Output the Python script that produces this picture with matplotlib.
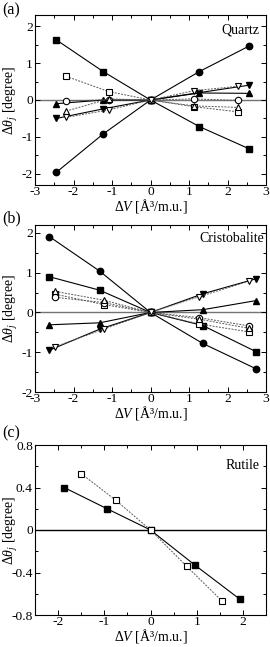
import matplotlib
matplotlib.use("Agg")
import matplotlib.pyplot as plt
from matplotlib.ticker import MultipleLocator, FuncFormatter

plt.rcParams['font.family'] = 'serif'
plt.rcParams['font.serif'] = ['Liberation Serif', 'DejaVu Serif']
plt.rcParams['mathtext.fontset'] = 'custom'
plt.rcParams['mathtext.rm'] = 'Liberation Serif'
plt.rcParams['mathtext.it'] = 'Liberation Serif:italic'
plt.rcParams['axes.unicode_minus'] = False
plt.rcParams['font.size'] = 10

# --- (a) quartz ---
quartz_dv_filled = [-2.45, -1.23, 0.0, 1.27, 2.56]
quartz_dv_open = [-2.19, -1.09, 0.0, 1.12, 2.27]
quartz_sq_filled = [1.63, 0.77, 0.0, -0.72, -1.32]
quartz_ci_filled = [-1.96, -0.92, 0.0, 0.77, 1.46]
quartz_up_filled = [-0.10, 0.00, 0.0, 0.19, 0.18]
quartz_dn_filled = [-0.50, -0.24, 0.0, 0.20, 0.40]
quartz_sq_open = [0.64, 0.23, 0.0, -0.18, -0.32]
quartz_ci_open = [-0.03, 0.01, 0.0, 0.03, -0.01]
quartz_up_open = [-0.30, 0.03, 0.0, -0.16, -0.20]
quartz_dn_open = [-0.47, -0.27, 0.0, 0.25, 0.37]

# --- (b) cristobalite ---
cristo_dv_filled = [-2.63, -1.32, 0.0, 1.36, 2.75]
cristo_dv_open = [-2.47, -1.22, 0.0, 1.27, 2.57]
cristo_sq_filled = [0.90, 0.56, 0.0, -0.33, -0.99]
cristo_ci_filled = [1.91, 1.04, 0.0, -0.78, -1.42]
cristo_up_filled = [-0.31, -0.26, 0.0, 0.07, 0.30]
cristo_dn_filled = [-0.95, -0.42, 0.0, 0.47, 0.85]
cristo_sq_open = [0.46, 0.20, 0.0, -0.29, -0.49]
cristo_ci_open = [0.38, 0.25, 0.0, -0.13, -0.34]
cristo_up_open = [0.53, 0.31, 0.0, -0.17, -0.40]
cristo_dn_open = [-0.86, -0.42, 0.0, 0.40, 0.79]

# --- (c) rutile ---
rutile_dv_filled = [-1.87, -0.94, 0.0, 0.96, 1.93]
rutile_dv_open = [-1.50, -0.75, 0.0, 0.78, 1.55]
rutile_sq_filled = [0.40, 0.20, 0.0, -0.33, -0.65]
rutile_sq_open = [0.53, 0.28, 0.0, -0.34, -0.67]

fig = plt.figure(figsize=(2.70, 6.47), dpi=100)

left, width = 35 / 270, 231 / 270
ax_a = fig.add_axes([left, 1 - 185 / 647, width, 170 / 647])
ax_b = fig.add_axes([left, 1 - 392 / 647, width, 167 / 647])
ax_c = fig.add_axes([left, 1 - 615 / 647, width, 170 / 647])

ms = 4.6
fmt = FuncFormatter(lambda v, p: f'{round(v, 3) + 0:g}')


def solid(ax, x, y, marker):
    ax.plot(x, y, color='black', lw=0.8, marker=marker, ms=ms,
            mfc='black', mec='black', zorder=3)


def dotted(ax, x, y, marker):
    ax.plot(x, y, color='0.35', lw=0.7, ls=(0, (2, 1.3)), marker=marker, ms=ms,
            mfc='white', mec='black', mew=0.8, zorder=4)


def style_axes(ax, xlim, ylim, xmaj, xmin, ymaj, ymin, zero_color):
    ax.axhline(0, color=zero_color, lw=1.0, zorder=1)
    ax.set_xlim(*xlim)
    ax.set_ylim(*ylim)
    ax.xaxis.set_major_locator(MultipleLocator(xmaj))
    ax.xaxis.set_minor_locator(MultipleLocator(xmin))
    ax.yaxis.set_major_locator(MultipleLocator(ymaj))
    ax.yaxis.set_minor_locator(MultipleLocator(ymin))
    ax.xaxis.set_major_formatter(fmt)
    ax.yaxis.set_major_formatter(fmt)
    ax.tick_params(which='both', direction='in', top=True, right=True, width=0.7,
                   labelsize=9.7)
    ax.tick_params(which='major', length=3.5, pad=1.5)
    ax.tick_params(axis='x', which='major', pad=1)
    ax.tick_params(which='minor', length=2)
    for sp in ax.spines.values():
        sp.set_linewidth(0.8)
    ax.set_xlabel(r'$\mathit{\Delta V}$ [Å³/m.u.]', labelpad=-1)
    ax.set_ylabel(r'$\mathit{\Delta\theta_j}$ [degree]')
    ax.yaxis.set_label_coords(-0.065, 0.5)


# panel (a)
dotted(ax_a, quartz_dv_open, quartz_sq_open, 's')
dotted(ax_a, quartz_dv_open, quartz_ci_open, 'o')
dotted(ax_a, quartz_dv_open, quartz_up_open, '^')
dotted(ax_a, quartz_dv_open, quartz_dn_open, 'v')
solid(ax_a, quartz_dv_filled, quartz_sq_filled, 's')
solid(ax_a, quartz_dv_filled, quartz_ci_filled, 'o')
solid(ax_a, quartz_dv_filled, quartz_up_filled, '^')
solid(ax_a, quartz_dv_filled, quartz_dn_filled, 'v')
style_axes(ax_a, (-3, 3), (-2.3, 2.3), 1, 0.5, 1, 0.5, '0.45')
ax_a.text(0.97, 0.95, 'Quartz', transform=ax_a.transAxes, ha='right', va='top')

# panel (b)
dotted(ax_b, cristo_dv_open, cristo_sq_open, 's')
dotted(ax_b, cristo_dv_open, cristo_ci_open, 'o')
dotted(ax_b, cristo_dv_open, cristo_up_open, '^')
dotted(ax_b, cristo_dv_open, cristo_dn_open, 'v')
solid(ax_b, cristo_dv_filled, cristo_sq_filled, 's')
solid(ax_b, cristo_dv_filled, cristo_ci_filled, 'o')
solid(ax_b, cristo_dv_filled, cristo_up_filled, '^')
solid(ax_b, cristo_dv_filled, cristo_dn_filled, 'v')
style_axes(ax_b, (-3, 3), (-2, 2.2), 1, 0.5, 1, 0.5, '0.45')
ax_b.text(0.99, 0.96, 'Cristobalite', transform=ax_b.transAxes, ha='right', va='top')

# panel (c)
dotted(ax_c, rutile_dv_open, rutile_sq_open, 's')
solid(ax_c, rutile_dv_filled, rutile_sq_filled, 's')
style_axes(ax_c, (-2.5, 2.5), (-0.8, 0.8), 1, 0.5, 0.4, 0.2, 'black')
ax_c.text(0.97, 0.92, 'Rutile', transform=ax_c.transAxes, ha='right', va='top')

# panel letters
fig.text(2 / 270, 1 - 2 / 647, '(a)', ha='left', va='top', fontsize=11.5)
fig.text(2 / 270, 1 - 210 / 647, '(b)', ha='left', va='top', fontsize=11.5)
fig.text(2 / 270, 1 - 425 / 647, '(c)', ha='left', va='top', fontsize=11.5)

fig.savefig('out.png', dpi=100)
